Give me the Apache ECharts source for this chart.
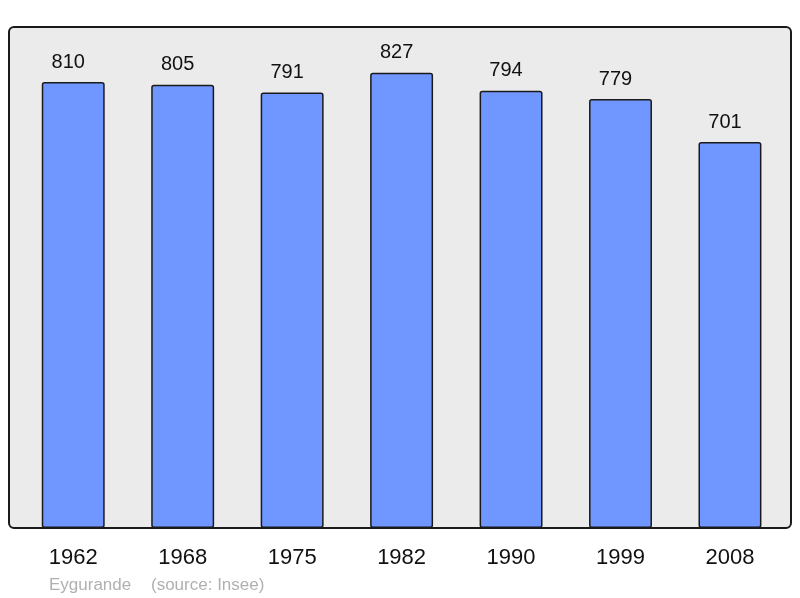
<!DOCTYPE html>
<html>
<head>
<meta charset="utf-8">
<script src="https://cdn.jsdelivr.net/npm/echarts@6/dist/echarts.min.js"></script>
<style>html,body{margin:0;padding:0;background:#fff}#c{width:800px;height:598px}</style>
</head>
<body>
<div id="c"></div>
<script>
var years = ['1962', '1968', '1975', '1982', '1990', '1999', '2008'];
var population = [810, 805, 791, 827, 794, 779, 701];
var place = 'Eygurande';
var source = '(source: Insee)';

var chart = echarts.init(document.getElementById('c'), null, {renderer: 'canvas'});
chart.setOption({
  animation: false,
  backgroundColor: '#ffffff',
  graphic: [
    {type: 'rect', z: -10, shape: {x: 9, y: 27, width: 782, height: 501, r: 5},
     style: {fill: '#ebebeb', stroke: '#1a1a1a', lineWidth: 2}},
    {type: 'text', left: 49, top: 577, style: {text: place, fill: '#b0b0b0', font: '17px "Liberation Sans", Arial, sans-serif'}},
    {type: 'text', left: 151, top: 577, style: {text: source, fill: '#b0b0b0', font: '17px "Liberation Sans", Arial, sans-serif'}}
  ],
  grid: {left: 18.5, right: 15.3, top: 27, bottom: 70, containLabel: false},
  xAxis: {
    type: 'category', data: years,
    axisLine: {show: false}, axisTick: {show: false},
    axisLabel: {color: '#111', fontSize: 22, fontFamily: '"Liberation Sans", Arial, sans-serif', margin: 19}
  },
  yAxis: {
    type: 'value', min: 0, max: 910, show: false, splitLine: {show: false}
  },
  series: [{
    type: 'bar', data: population, barWidth: '57.5%',
    itemStyle: {color: '#7096ff', borderColor: '#1a1a1a', borderWidth: 1.5, borderRadius: 2},
    label: {show: true, position: 'top', distance: 10, offset: [-5, 0], color: '#111', fontSize: 20,
            fontFamily: '"Liberation Sans", Arial, sans-serif'}
  }]
});
</script>
</body>
</html>
